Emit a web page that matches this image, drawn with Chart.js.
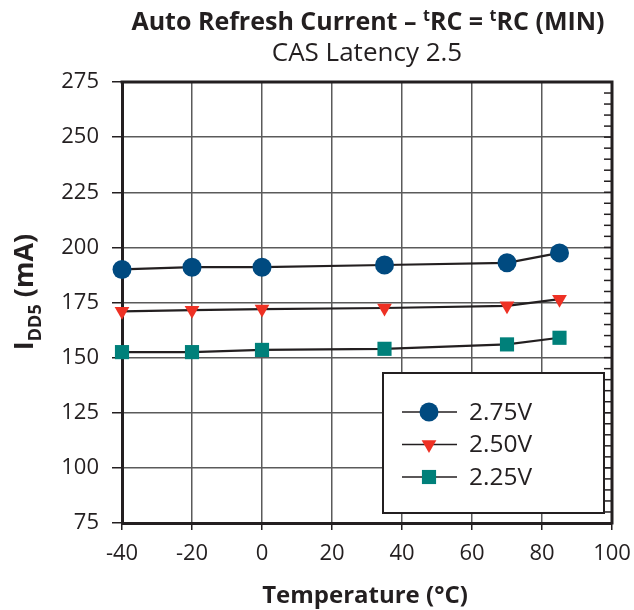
<!DOCTYPE html>
<html>
<head>
<meta charset="utf-8">
<script src="https://cdn.jsdelivr.net/npm/chart.js@4.4.1/dist/chart.umd.min.js"></script>
<style>
  html, body { margin: 0; padding: 0; background: #ffffff; }
  #wrap { width: 634px; height: 610px; }
</style>
</head>
<body>
<div id="wrap"><canvas id="c" width="634" height="610"></canvas></div>
<script>
// ---- data ----
const temps = [-40, -20, 0, 35, 70, 85];
const v275 = [190, 191, 191, 192, 193, 197.5];
const v250 = [171, 171.5, 172, 172.5, 173.5, 176.5];
const v225 = [152.5, 152.5, 153.5, 154, 156, 159];
const seriesLabels = ['2.75V', '2.50V', '2.25V'];
const xRange = [-40, 100];
const yRange = [75, 275];
const xStep = 20;
const yStep = 25;
const yMinorStep = 5;

const INK = '#231f20';
const FONT = "'Open Sans', 'Noto Sans', sans-serif";

const styles = [
  { color: '#004a80', pointStyle: 'circle', radius: 9.5, rotation: 0 },
  { color: '#ee3124', pointStyle: 'triangle', radius: 8.5, rotation: 180 },
  { color: '#00807a', pointStyle: 'rect', radius: 10, rotation: 0 }
];
const series = [v275, v250, v225];

const datasets = series.map((vals, i) => ({
  label: seriesLabels[i],
  data: temps.map((t, j) => ({ x: t, y: vals[j] })),
  borderColor: INK,
  borderWidth: 2.2,
  backgroundColor: styles[i].color,
  pointBackgroundColor: styles[i].color,
  pointBorderColor: styles[i].color,
  pointBorderWidth: 0,
  pointStyle: styles[i].pointStyle,
  pointRadius: styles[i].radius,
  pointRotation: styles[i].rotation,
  tension: 0,
  fill: false,
  clip: false
}));

function drawMarker(ctx, st, x, y) {
  ctx.save();
  ctx.fillStyle = st.color;
  ctx.beginPath();
  const r = st.radius;
  if (st.pointStyle === 'circle') {
    ctx.arc(x, y, r, 0, Math.PI * 2);
  } else if (st.pointStyle === 'triangle') {
    let rad = st.rotation * Math.PI / 180;
    for (let k = 0; k < 3; k++) {
      const px = x + Math.sin(rad) * r, py = y - Math.cos(rad) * r;
      if (k === 0) ctx.moveTo(px, py); else ctx.lineTo(px, py);
      rad += 2 * Math.PI / 3;
    }
    ctx.closePath();
  } else {
    const s = Math.SQRT1_2 * r;
    ctx.rect(x - s, y - s, 2 * s, 2 * s);
  }
  ctx.fill();
  ctx.restore();
}

function richWidth(ctx, parts) {
  let w = 0;
  parts.forEach(p => { ctx.font = p.font; w += ctx.measureText(p.text).width; });
  return w;
}
function drawRich(ctx, parts, x0, y) {
  let x = x0;
  parts.forEach(p => {
    ctx.font = p.font;
    ctx.fillText(p.text, x, y + (p.dy || 0));
    x += ctx.measureText(p.text).width;
  });
}

const decor = {
  id: 'decor',
  afterDraw(chart) {
    const ctx = chart.ctx;
    const a = chart.chartArea;
    const ys = chart.scales.y;
    ctx.save();
    ctx.fillStyle = INK;
    ctx.strokeStyle = INK;

    // top and right frame
    ctx.lineWidth = 3;
    ctx.beginPath();
    ctx.moveTo(a.left - 1.5, a.top);
    ctx.lineTo(a.right, a.top);
    ctx.lineTo(a.right, a.bottom + 1.5);
    ctx.stroke();

    // right minor ticks (inward)
    ctx.lineWidth = 1.5;
    for (let v = yRange[0] + yMinorStep; v < yRange[1]; v += yMinorStep) {
      const py = ys.getPixelForValue(v);
      ctx.beginPath();
      ctx.moveTo(a.right, py);
      ctx.lineTo(a.right - 8, py);
      ctx.stroke();
    }

    // legend box
    const lx = 383, ly = 373, lw = 221, lh = 140;
    ctx.fillStyle = '#ffffff';
    ctx.fillRect(lx, ly, lw, lh);
    ctx.lineWidth = 2;
    ctx.strokeStyle = INK;
    ctx.strokeRect(lx, ly, lw, lh);
    const rows = [412, 444.5, 477];
    ctx.font = '24.5px ' + FONT;
    ctx.textBaseline = 'middle';
    ctx.textAlign = 'left';
    seriesLabels.forEach((lab, i) => {
      const ry = rows[i];
      ctx.lineWidth = 1.5;
      ctx.strokeStyle = INK;
      ctx.beginPath();
      ctx.moveTo(402, ry);
      ctx.lineTo(457, ry);
      ctx.stroke();
      drawMarker(ctx, styles[i], 429, ry);
      ctx.fillStyle = INK;
      ctx.fillText(lab, 469, ry + 1);
    });

    // titles
    ctx.fillStyle = INK;
    ctx.textBaseline = 'alphabetic';
    ctx.textAlign = 'left';
    const bold = (s) => 'bold ' + s + 'px ' + FONT;
    const titleParts = [
      { text: 'Auto Refresh Current – ', font: bold(25) },
      { text: 't', font: bold(16), dy: -9 },
      { text: 'RC = ', font: bold(25) },
      { text: 't', font: bold(16), dy: -9 },
      { text: 'RC (MIN)', font: bold(25) }
    ];
    const cx = (a.left + a.right) / 2;
    const tw = richWidth(ctx, titleParts);
    drawRich(ctx, titleParts, cx - tw / 2 + 1, 30);

    ctx.textAlign = 'center';
    ctx.font = '26px ' + FONT;
    ctx.fillText('CAS Latency 2.5', cx, 61);

    ctx.font = bold(24);
    ctx.fillText('Temperature (°C)', cx - 2, 603);

    // y title rotated
    ctx.save();
    ctx.translate(33, 292);
    ctx.rotate(-Math.PI / 2);
    ctx.textAlign = 'left';
    const yParts = [
      { text: 'I', font: bold(27) },
      { text: 'DD5', font: bold(18), dy: 8 },
      { text: ' (mA)', font: bold(27) }
    ];
    const yw = richWidth(ctx, yParts);
    drawRich(ctx, yParts, -yw / 2, 0);
    ctx.restore();

    ctx.restore();
  }
};

new Chart(document.getElementById('c'), {
  type: 'line',
  data: { datasets },
  options: {
    responsive: false,
    animation: false,
    devicePixelRatio: 1,
    layout: { padding: { top: 82, right: 22, left: 0, bottom: 0 } },
    plugins: { legend: { display: false }, title: { display: false }, tooltip: { enabled: false } },
    scales: {
      x: {
        type: 'linear',
        min: xRange[0], max: xRange[1],
        afterFit: (s) => { s.height = 87; s.paddingRight = 0; s.paddingLeft = 0; },
        ticks: { stepSize: xStep, color: INK, font: { size: 22, family: FONT }, padding: 11, maxRotation: 0 },
        grid: { color: '#5a5a5a', lineWidth: 1.5, tickLength: 7, tickColor: INK, tickWidth: 1.5 },
        border: { display: true, color: INK, width: 3 }
      },
      y: {
        type: 'linear',
        min: yRange[0], max: yRange[1],
        afterFit: (s) => { s.width = 122; s.paddingTop = 0; s.paddingBottom = 0; },
        ticks: { stepSize: yStep, color: INK, font: { size: 22, family: FONT }, padding: 13 },
        grid: { color: '#5a5a5a', lineWidth: 1.5, tickLength: 10, tickColor: INK, tickWidth: 1.5 },
        border: { display: true, color: INK, width: 3 }
      }
    }
  },
  plugins: [decor]
});
</script>
</body>
</html>
